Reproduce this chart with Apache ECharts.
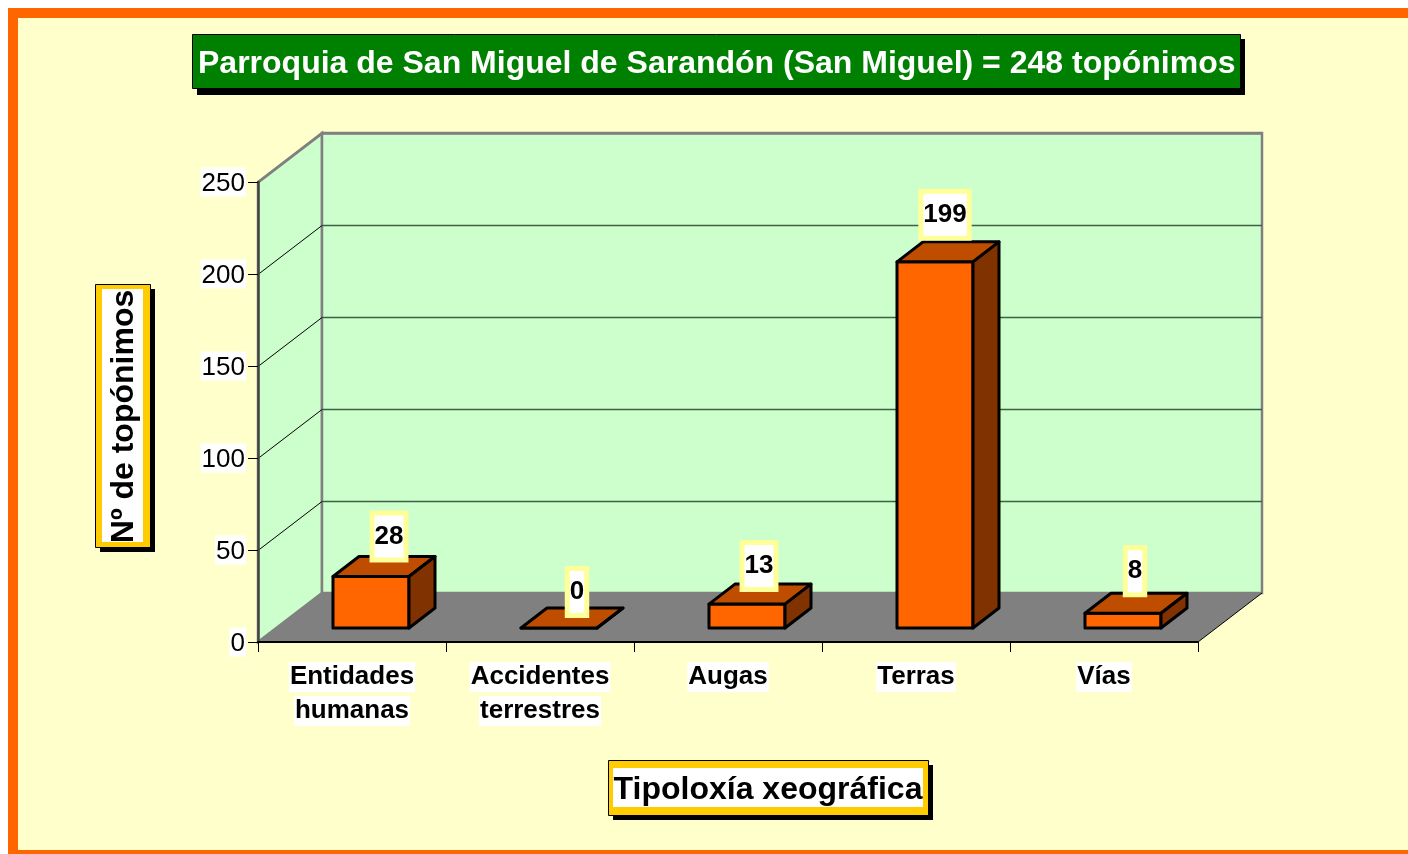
<!DOCTYPE html>
<html>
<head>
<meta charset="utf-8">
<title>San Miguel de Sarandón</title>
<script src="https://cdn.jsdelivr.net/npm/echarts@6/dist/echarts.min.js"></script>
<style>
  html, body { margin: 0; padding: 0; background: #fff; overflow: hidden; }
  #marco { position: absolute; left: 8px; top: 8px; width: 1390px; height: 832px; border: 10px solid #ff6600; border-right: 0; background: #ffffcc; }
  #grafico { position: absolute; left: 0; top: 0; width: 1408px; height: 854px; }
</style>
</head>
<body>
<div id="marco"></div>
<div id="grafico"></div>
<script>
const categorias = ["Entidades humanas", "Accidentes terrestres", "Augas", "Terras", "Vías"];
const valores = [28, 0, 13, 199, 8];
const ticksY = [50, 100, 150, 200, 250];

const titulo = "Parroquia de San Miguel de Sarandón (San Miguel) = 248 topónimos";
const tituloX = "Tipoloxía xeográfica";
const tituloY = "Nº de topónimos";

const fuente = '"Liberation Sans", Arial, sans-serif';

// profundidad del "3D" de excel: pared del fondo y barras
const fondoX = 64, fondoY = -49;
const barraX = 19, barraY = -14, barraAncho = 76, prismaX = 26, prismaY = -20;
// ajuste de cada etiqueta respecto a su barra
const ajusteEtiqueta = [[18, -40], [18, -36], [12, -38], [10, -47], [12, -42]];

function renderParedes(params, api) {
  const c = params.coordSys;
  const izq = c.x, der = c.x + c.width, arriba = c.y, abajo = c.y + c.height;
  const poligono = (puntos, relleno, borde, grosor) => ({
    type: "polygon",
    shape: { points: puntos },
    style: { fill: relleno, stroke: borde, lineWidth: grosor },
  });
  return {
    type: "group",
    children: [
      poligono([[izq, abajo], [izq + fondoX, abajo + fondoY], [izq + fondoX, arriba + fondoY], [izq, arriba]], "#ccffcc", "#808080", 2.5),
      poligono([[izq + fondoX, abajo + fondoY], [der + fondoX, abajo + fondoY], [der + fondoX, arriba + fondoY], [izq + fondoX, arriba + fondoY]], "#ccffcc", "#808080", 2.5),
      poligono([[izq, abajo], [izq + fondoX, abajo + fondoY], [der + fondoX, abajo + fondoY], [der, abajo]], "#808080", null, 0),
      {
        type: "line",
        shape: { x1: der, y1: abajo, x2: der + fondoX, y2: abajo + fondoY },
        style: { stroke: "#000", lineWidth: 1 },
      },
    ],
  };
}

// lineas de la cuadricula: diagonal en la pared izquierda y recta en el fondo
function renderCuadricula(params, api) {
  const c = params.coordSys;
  const y = api.coord([0, api.value(0)])[1];
  const ultima = api.value(0) === 250;
  return {
    type: "group",
    children: [
      {
        type: "line",
        shape: { x1: c.x, y1: y + 0.5, x2: c.x + fondoX, y2: y + fondoY + 0.5 },
        style: { stroke: ultima ? "#808080" : "#000", lineWidth: ultima ? 2.5 : 1 },
      },
      {
        type: "line",
        shape: { x1: c.x + fondoX, y1: y + fondoY + 0.5, x2: c.x + c.width + fondoX, y2: y + fondoY + 0.5 },
        style: { stroke: ultima ? "#808080" : "#3f5f45", lineWidth: ultima ? 2.5 : 1.5 },
      },
    ],
  };
}

function renderBarra(params, api) {
  const i = api.value(0);
  const base = api.coord([i, 0]);
  const tope = api.coord([i, api.value(1)]);
  const izq = base[0] + barraX - barraAncho / 2;
  const der = izq + barraAncho;
  const abajo = base[1] + barraY;
  const arriba = tope[1] + barraY;
  const trazo = { stroke: "#000", lineWidth: 3, lineJoin: "round" };
  const ajuste = ajusteEtiqueta[i];
  return {
    type: "group",
    children: [
      {
        type: "polygon",
        shape: { points: [[izq, arriba], [der, arriba], [der, abajo], [izq, abajo]] },
        style: { fill: "#ff6600", ...trazo },
      },
      {
        type: "polygon",
        shape: { points: [[izq, arriba], [izq + prismaX, arriba + prismaY], [der + prismaX, arriba + prismaY], [der, arriba]] },
        style: { fill: "#bf4d00", ...trazo },
      },
      {
        type: "polygon",
        shape: { points: [[der, arriba], [der + prismaX, arriba + prismaY], [der + prismaX, abajo + prismaY], [der, abajo]] },
        style: { fill: "#803300", ...trazo },
      },
      {
        type: "text",
        x: base[0] + barraX + ajuste[0],
        y: arriba + ajuste[1],
        style: {
          text: String(api.value(1)),
          font: "bold 26px " + fuente,
          fill: "#000",
          align: "center",
          verticalAlign: "middle",
          lineHeight: 38,
          padding: [2, 0],
          backgroundColor: "#fff",
          borderColor: "#ffff99",
          borderWidth: 5,
        },
      },
    ],
  };
}

// recuadro de los titulos de los ejes, con su sombra negra
function recuadro(x, y, w, h, margenX, margenY, texto, rotacion, ajusteX, ajusteY) {
  const cx = x + w / 2, cy = y + h / 2;
  return [
    { type: "rect", shape: { x: x + 5, y: y + 5, width: w, height: h }, style: { fill: "#000" } },
    { type: "rect", shape: { x: x + 0.5, y: y + 0.5, width: w, height: h }, style: { fill: "#ffcc00", stroke: "#000", lineWidth: 1 } },
    { type: "rect", shape: { x: x + margenX, y: y + margenY, width: w - 2 * margenX, height: h - 2 * margenY }, style: { fill: "#fff" } },
    {
      type: "text",
      x: cx + ajusteX,
      y: cy + ajusteY,
      rotation: rotacion,
      style: { text: texto, font: "bold 32px " + fuente, fill: "#000", align: "center", verticalAlign: "middle" },
    },
  ];
}

const myChart = echarts.init(document.getElementById("grafico"));

const option = {
  animation: false,
  backgroundColor: "transparent",
  textStyle: { fontFamily: fuente },
  title: {
    text: titulo,
    left: 192,
    top: 34,
    padding: [12, 5, 7, 6],
    backgroundColor: "#008000",
    borderColor: "#000",
    borderWidth: 1,
    textStyle: { color: "#fff", fontSize: 32, fontWeight: "bold", fontFamily: fuente, lineHeight: 36 },
  },
  grid: { left: 258, top: 182, width: 940, height: 460, containLabel: false },
  xAxis: {
    type: "category",
    data: categorias,
    z: 3,
    axisLine: { lineStyle: { color: "#000", width: 2 } },
    axisTick: { show: true, length: 10, lineStyle: { color: "#000", width: 1 } },
    axisLabel: {
      interval: 0,
      margin: 18,
      formatter: (valor) => valor.split(" ").map((p) => `{a|${p}}`).join("\n"),
      rich: {
        a: {
          fontFamily: fuente,
          fontSize: 26,
          fontWeight: "bold",
          color: "#000",
          backgroundColor: "#fff",
          height: 30,
          lineHeight: 34,
          padding: [0, 1],
        },
      },
    },
  },
  yAxis: {
    type: "value",
    min: 0,
    max: 250,
    interval: 50,
    z: 3,
    splitLine: { show: false },
    axisLine: { show: true, lineStyle: { color: "#444", width: 2.5 } },
    axisTick: { show: true, length: 10, lineStyle: { color: "#000", width: 1 } },
    axisLabel: {
      margin: 12,
      formatter: "{a|{value}}",
      rich: {
        a: {
          fontFamily: fuente,
          fontSize: 26,
          color: "#000",
          backgroundColor: "#fff",
          height: 26,
          padding: [3, 1, 0, 1],
        },
      },
    },
  },
  series: [
    {
      type: "custom",
      z: 1,
      silent: true,
      clip: false,
      renderItem: renderParedes,
      data: [0],
    },
    {
      type: "custom",
      z: 2,
      silent: true,
      clip: false,
      renderItem: renderCuadricula,
      data: ticksY,
      encode: { y: 0 },
    },
    {
      type: "custom",
      z: 4,
      clip: false,
      renderItem: renderBarra,
      data: valores.map((v, i) => [i, v]),
      encode: { x: 0, y: 1 },
    },
  ],
  graphic: [
    // sombra del titulo, queda por debajo de la caja verde
    { type: "rect", z: 0, shape: { x: 197, y: 39, width: 1048, height: 56 }, style: { fill: "#000" } },
    ...recuadro(608, 760, 320, 55, 5, 8, tituloX, 0, 0, 3),
    ...recuadro(95, 284, 55, 263, 7, 5, tituloY, Math.PI / 2, 2, 1),
  ],
};

myChart.setOption(option);
</script>
</body>
</html>
